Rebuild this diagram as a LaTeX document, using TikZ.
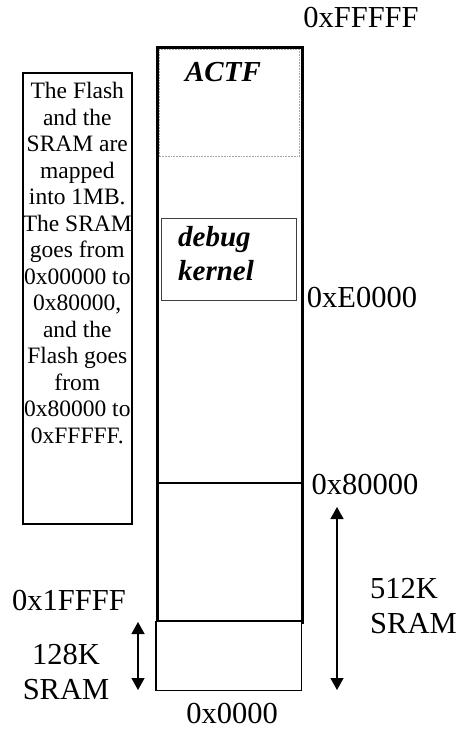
\documentclass[tikz,border=0pt]{standalone}
\usepackage{fontspec}
\setmainfont{Liberation Serif}
\usepackage{tikz}
\usetikzlibrary{arrows.meta, positioning, calc}

\begin{document}
\begin{tikzpicture}[x=1pt, y=-1pt]

  %% Page frame (pixel grid of the reference)
  \useasboundingbox (0,0) rectangle (457,729);

  \tikzset{
    addr/.style={font=\fontsize{30.5}{35}\selectfont, inner sep=0pt},
    memblk/.style={draw, rectangle, inner sep=0pt, fill=white},
    note/.style={font=\fontsize{23.5}{26.5}\selectfont, align=center, inner sep=0pt},
    region/.style={font=\fontsize{29}{34}\selectfont\bfseries\itshape, inner sep=0pt},
    sizearr/.style={line width=1.4pt, {Triangle[width=13pt,length=12pt]}-{Triangle[width=13pt,length=12pt]}}
  }

  %% Explanatory box on the left
  \node[memblk, line width=1.6pt, minimum width=109, minimum height=451,
        anchor=north west] (notebox) at (22,72) {};
  \node[note, anchor=north] (notetxt) at ($(notebox.north)+(0,10)$)
    {The Flash\\and the\\SRAM are\\mapped\\into 1MB.\\The SRAM\\goes from\\0x00000 to\\0x80000,\\and the\\Flash goes\\from\\0x80000 to\\0xFFFFF.};

  %% Memory column
  \node[memblk, line width=2.5pt, minimum width=145, minimum height=575,
        anchor=north west] (col) at (156,46) {};
  \node[memblk, line width=1.4pt, minimum width=145, minimum height=69,
        anchor=north west] (sram) at (156,621) {};
  \draw[line width=2.5pt] (sram.north west) -- (sram.north east);
  \draw[line width=2.5pt] (sram.north west) -- (sram.south west);

  %% ACTF region
  \node[memblk, draw=gray!70, densely dotted, line width=1.8pt,
        minimum width=140, minimum height=107, anchor=north west] (actf) at (158.5,48.5) {};
  \node[region] (actftxt) at (223,72) {ACTF};

  %% debug kernel region
  \node[memblk, draw=black!75, line width=1.3pt, minimum width=135, minimum height=82,
        anchor=north west] (dbg) at (161,218) {};
  \node[region, align=left, anchor=north west] (dbgtxt) at (178,226) {debug\\kernel};

  %% 0x80000 boundary
  \coordinate (b8l) at (156,483);
  \coordinate (b8r) at (301,483);
  \draw[line width=1.3pt] (b8l) -- (b8r);

  %% Address labels
  \node[addr] (aFFFFF) at (361,18) {0xFFFFF};
  \node[addr] (aE0000) at (362,298) {0xE0000};
  \node[addr] (a80000) at (365,484) {0x80000};
  \node[addr] (a1FFFF) at (69,600) {0x1FFFF};
  \node[addr] (a0000) at (232,713) {0x0000};

  %% Size labels
  \node[addr, align=left, anchor=north west] (s512) at (370,578) {512K\\SRAM};
  \node[addr, align=center, anchor=north] (s128) at (66,644) {128K\\SRAM};

  %% Size arrows
  \coordinate (r512t) at (337,507);
  \coordinate (r512b) at (337,690);
  \draw[sizearr] (r512t) -- (r512b);
  \coordinate (r128t) at (138,622);
  \coordinate (r128b) at (138,690);
  \draw[sizearr] (r128t) -- (r128b);

\end{tikzpicture}
\end{document}
